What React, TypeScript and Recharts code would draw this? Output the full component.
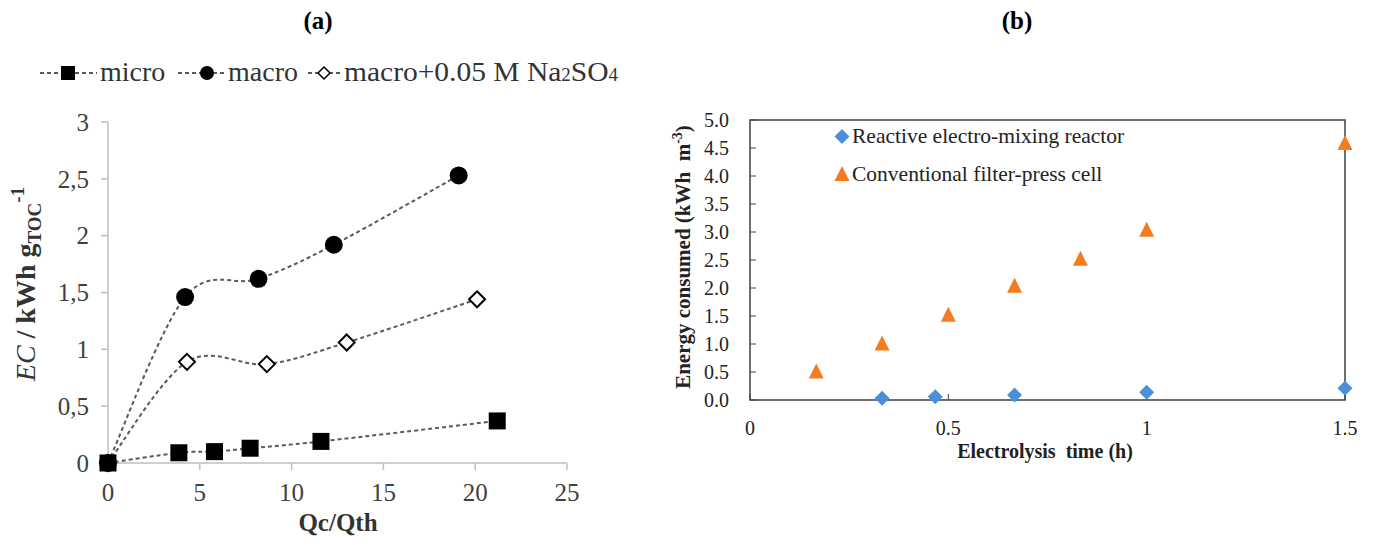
import React from 'react';
import { ScatterChart, Scatter, XAxis, YAxis, ReferenceArea } from 'recharts';

// (a) energy consumption vs Qc/Qth
const microQ = [0, 3.86, 5.8, 7.74, 11.6, 21.2];
const microEC = [0, 0.09, 0.1, 0.13, 0.19, 0.37];
const macroQ = [0, 4.2, 8.2, 12.3, 19.1];
const macroEC = [0, 1.46, 1.62, 1.92, 2.53];
const sulfateQ = [0, 4.3, 8.65, 13.0, 20.1];
const sulfateEC = [0, 0.89, 0.87, 1.06, 1.44];
const qTicks = [0, 5, 10, 15, 20, 25];
const ecTicks = [0, 0.5, 1, 1.5, 2, 2.5, 3];

// (b) energy consumed vs electrolysis time
const reactorTime = [0.333, 0.467, 0.667, 1, 1.5];
const reactorEnergy = [0.03, 0.06, 0.09, 0.14, 0.21];
const filterTime = [0.167, 0.333, 0.5, 0.667, 0.833, 1, 1.5];
const filterEnergy = [0.52, 1.02, 1.53, 2.05, 2.53, 3.05, 4.6];
const timeTicks = [0, 0.5, 1, 1.5];
const energyTicks = [0, 0.5, 1, 1.5, 2, 2.5, 3, 3.5, 4, 4.5, 5];

const SERIF = '"Liberation Serif", "Times New Roman", serif';
const BLUE = '#4a90d9';
const ORANGE = '#f47b20';
const DASH = { stroke: '#5a5a5a', strokeWidth: 2, strokeDasharray: '4 3' };

const toPoints = (xs: number[], ys: number[]) => xs.map((x, i) => ({ x, y: ys[i] }));

// Excel style smoothed line (Catmull-Rom through the points)
function excelSmooth(context: any) {
  let pts: number[][] = [];
  return {
    areaStart() {},
    areaEnd() {},
    lineStart() {
      pts = [];
    },
    point(x: number, y: number) {
      pts.push([+x, +y]);
    },
    lineEnd() {
      if (!pts.length) return;
      context.moveTo(pts[0][0], pts[0][1]);
      for (let i = 0; i < pts.length - 1; i++) {
        const p0 = pts[i - 1] || pts[i];
        const p1 = pts[i];
        const p2 = pts[i + 1];
        const p3 = pts[i + 2] || p2;
        context.bezierCurveTo(
          p1[0] + (p2[0] - p0[0]) / 6,
          p1[1] + (p2[1] - p0[1]) / 6,
          p2[0] - (p3[0] - p1[0]) / 6,
          p2[1] - (p3[1] - p1[1]) / 6,
          p2[0],
          p2[1]
        );
      }
    },
  };
}

const Square = ({ cx, cy }: any) => <rect x={cx - 8.5} y={cy - 8.5} width={17} height={17} fill="#000" />;
const Dot = ({ cx, cy }: any) => <circle cx={cx} cy={cy} r={9} fill="#000" />;
const HollowDiamond = ({ cx, cy }: any) => (
  <path d={`M${cx},${cy - 8} L${cx + 8},${cy} L${cx},${cy + 8} L${cx - 8},${cy} Z`} fill="#fff" stroke="#000" strokeWidth={2} />
);
const BlueDiamond = ({ cx, cy }: any) => (
  <path d={`M${cx},${cy - 7.5} L${cx + 7.5},${cy} L${cx},${cy + 7.5} L${cx - 7.5},${cy} Z`} fill={BLUE} />
);
const OrangeTriangle = ({ cx, cy }: any) => (
  <path d={`M${cx},${cy - 7.5} L${cx + 7.5},${cy + 7.5} L${cx - 7.5},${cy + 7.5} Z`} fill={ORANGE} />
);

// tick renderers so the serif font is really used
const makeTick = (size: number, color: string, anchor: string, fmt: (v: number) => string) => (props: any) => {
  const { x, y, payload } = props;
  return (
    <text x={x} y={y} dy={anchor === 'middle' ? '0.71em' : '0.35em'} textAnchor={anchor} fontFamily={SERIF} fontSize={size} fill={color}>
      {fmt(payload.value)}
    </text>
  );
};
const commaFmt = (v: number) => String(v).replace('.', ',');
const QTick = makeTick(25, '#404040', 'middle', (v) => String(v));
const ECTick = makeTick(25, '#404040', 'end', commaFmt);
const TimeTick = makeTick(20, '#222', 'middle', (v) => String(v));
const EnergyTick = makeTick(20, '#222', 'end', (v) => v.toFixed(1));

function LegendA() {
  const y = 73;
  const font = { fontFamily: SERIF, fontSize: 28, fill: '#333' };
  return (
    <g>
      <line x1={40} x2={97} y1={y} y2={y} {...DASH} />
      <rect x={61} y={y - 7} width={14} height={14} fill="#000" />
      <text x={100} y={y + 8} {...font}>micro</text>
      <line x1={178} x2={226} y1={y} y2={y} {...DASH} />
      <circle cx={207} cy={y} r={7} fill="#000" />
      <text x={228} y={y + 8} {...font}>macro</text>
      <line x1={308} x2={342} y1={y} y2={y} {...DASH} />
      <path d={`M324,${y - 6} L330,${y} L324,${y + 6} L318,${y} Z`} fill="#fff" stroke="#000" strokeWidth={1.5} />
      <text x={344} y={y + 8} {...font} textLength={274} lengthAdjust="spacingAndGlyphs">
        macro+0.05 M Na<tspan fontSize={18}>2</tspan>SO<tspan fontSize={18}>4</tspan>
      </text>
    </g>
  );
}

function Overlay() {
  return (
    <svg width={1375} height={545} style={{ position: 'absolute', left: 0, top: 0, pointerEvents: 'none' }}>
      <text x={318} y={29} textAnchor="middle" fontFamily={SERIF} fontSize={25} fontWeight="bold" fill="#000">(a)</text>
      <text x={1017} y={29} textAnchor="middle" fontFamily={SERIF} fontSize={25} fontWeight="bold" fill="#000">(b)</text>
      <LegendA />
      <text transform="translate(35,284) rotate(-90)" textAnchor="middle" fontFamily={SERIF} fontSize={28} fontWeight="bold" fill="#333">
        <tspan fontStyle="italic" fontWeight="normal">EC</tspan>
        <tspan> / kWh g</tspan>
        <tspan fontSize={19} dy={6}>TOC</tspan>
        <tspan fontSize={19} dy={-17}>-1</tspan>
      </text>
      <text x={338} y={531} textAnchor="middle" fontFamily={SERIF} fontSize={25} fontWeight="bold" fill="#333">Qc/Qth</text>

      <text transform="translate(690,257) rotate(-90)" textAnchor="middle" fontFamily={SERIF} fontSize={21} fontWeight="bold" fill="#222" xmlSpace="preserve">
        Energy consumed (kWh  m<tspan fontSize={14} dy={-8}>-3</tspan><tspan dy={8}>)</tspan>
      </text>
      <text x={1045} y={458} textAnchor="middle" fontFamily={SERIF} fontSize={20} fontWeight="bold" fill="#222" xmlSpace="preserve">Electrolysis  time (h)</text>

      <path d="M842,129 L849.5,136.5 L842,144 L834.5,136.5 Z" fill={BLUE} />
      <text x={852} y={143} fontFamily={SERIF} fontSize={21.5} fill="#222">Reactive electro-mixing reactor</text>
      <path d="M842,166 L849.5,181 L834.5,181 Z" fill={ORANGE} />
      <text x={852} y={181} fontFamily={SERIF} fontSize={21.5} fill="#222">Conventional filter-press cell</text>
    </svg>
  );
}

export default function App() {
  return (
    <div style={{ position: 'absolute', left: 0, top: 0, width: 1375, height: 545, background: '#fff', overflow: 'hidden', fontFamily: SERIF }}>
      <div style={{ position: 'absolute', left: 0, top: 0 }}>
        <ScatterChart width={660} height={545} margin={{ top: 122, right: 93, bottom: 42, left: 48 }}>
          <XAxis
            type="number"
            dataKey="x"
            domain={[0, 25]}
            ticks={qTicks}
            height={40}
            stroke="#bfbfbf"
            strokeWidth={1.5}
            tickSize={7}
            tickMargin={13}
            tick={QTick}
          />
          <YAxis
            type="number"
            dataKey="y"
            domain={[0, 3]}
            ticks={ecTicks}
            width={60}
            stroke="#bfbfbf"
            strokeWidth={1.5}
            tickSize={7}
            tickMargin={12}
            tick={ECTick}
          />
          <Scatter data={toPoints(sulfateQ, sulfateEC)} shape={HollowDiamond} line={DASH} lineJointType={excelSmooth as any} isAnimationActive={false} />
          <Scatter data={toPoints(macroQ, macroEC)} shape={Dot} line={DASH} lineJointType={excelSmooth as any} isAnimationActive={false} />
          <Scatter data={toPoints(microQ, microEC)} shape={Square} line={DASH} lineJointType={excelSmooth as any} isAnimationActive={false} />
        </ScatterChart>
      </div>
      <div style={{ position: 'absolute', left: 660, top: 0 }}>
        <ScatterChart width={715} height={545} margin={{ top: 120, right: 30, bottom: 105, left: 30 }}>
          <ReferenceArea x1={0} x2={1.5} y1={0} y2={5} fill="none" stroke="#404040" strokeWidth={1.5} ifOverflow="visible" />
          <XAxis
            type="number"
            dataKey="x"
            domain={[0, 1.5]}
            ticks={timeTicks}
            height={40}
            axisLine={false}
            stroke="#404040"
            tickSize={-6}
            tickMargin={27}
            tick={TimeTick}
          />
          <YAxis
            type="number"
            dataKey="y"
            domain={[0, 5]}
            ticks={energyTicks}
            width={60}
            axisLine={false}
            stroke="#404040"
            tickSize={-6}
            tickMargin={27}
            tick={EnergyTick}
          />
          <Scatter data={toPoints(filterTime, filterEnergy)} shape={OrangeTriangle} isAnimationActive={false} />
          <Scatter data={toPoints(reactorTime, reactorEnergy)} shape={BlueDiamond} isAnimationActive={false} />
        </ScatterChart>
      </div>
      <Overlay />
    </div>
  );
}
